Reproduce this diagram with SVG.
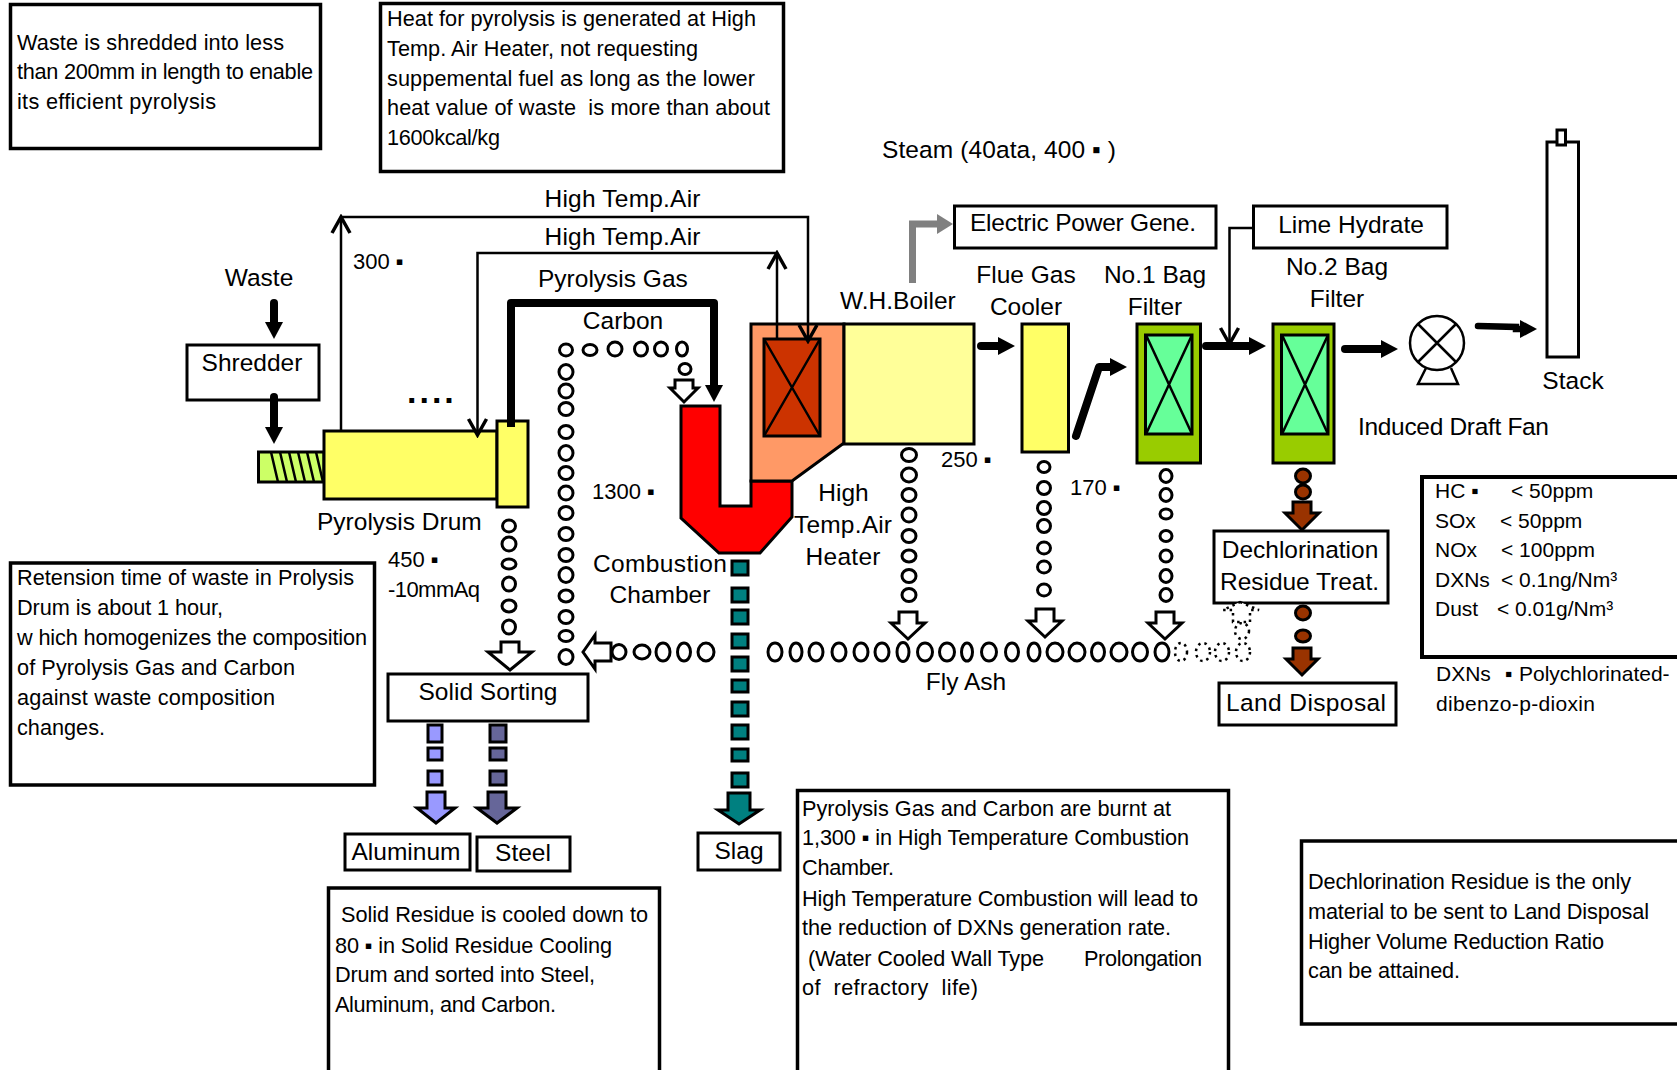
<svg xmlns="http://www.w3.org/2000/svg" width="1677" height="1070" viewBox="0 0 1677 1070">
<style>
text{font-family:"Liberation Sans",Arial,sans-serif;fill:#000}
.l{font-size:24.5px}.m{text-anchor:middle}.n{font-size:21.7px}.e{font-size:21px}.t{font-size:22px}
.b{fill:#fff;stroke:#000;stroke-width:3}.note{fill:#fff;stroke:#000;stroke-width:3.5}
.s{stroke:#000;stroke-width:3}
.x{fill:none;stroke:#000;stroke-width:2.5}
.thin{fill:none;stroke:#000;stroke-width:2.5}
.heavy{fill:none;stroke:#000;stroke-width:8;stroke-linecap:round;stroke-linejoin:round}
.o{fill:#fff;stroke:#000;stroke-width:3}
.d{fill:#fff;stroke:#000;stroke-width:2.5;stroke-dasharray:2.5 4}
.h{fill:#fff;stroke:#000;stroke-width:3}
</style>
<defs>
<marker id="fh" markerUnits="userSpaceOnUse" markerWidth="20" markerHeight="20" refX="1" refY="9" orient="auto"><path d="M0 0L17 9L0 18Z" fill="#000"/></marker>
<marker id="gh" markerUnits="userSpaceOnUse" markerWidth="20" markerHeight="22" refX="1" refY="10" orient="auto"><path d="M0 0L16 10L0 20Z" fill="#808080"/></marker>
<marker id="vh" markerUnits="userSpaceOnUse" markerWidth="20" markerHeight="24" refX="17" refY="11" orient="auto"><path d="M1 2L17 11L1 20" fill="none" stroke="#000" stroke-width="3.500"/></marker>
</defs>
<g id="note-shredding"><rect class="note" x="10.500" y="4.500" width="310" height="144"/>
<text class="n" x="17" y="50" textLength="267">Waste is shredded into less</text><text class="n" x="17" y="79" textLength="296">than 200mm in length to enable</text><text class="n" x="17" y="109" textLength="199">its efficient pyrolysis</text></g>
<g id="note-heat"><rect class="note" x="380.500" y="3.500" width="403" height="168"/>
<text class="n" x="387" y="26" textLength="369">Heat for pyrolysis is generated at High</text><text class="n" x="387" y="56" textLength="311">Temp. Air Heater, not requesting</text><text class="n" x="387" y="86" textLength="368">suppemental fuel as long as the lower</text><text class="n" x="387" y="115" textLength="383" xml:space="preserve">heat value of waste  is more than about</text><text class="n" x="387" y="145" textLength="113">1600kcal/kg</text></g>
<g id="note-retention"><rect class="note" x="10.500" y="563" width="364" height="222"/>
<text class="n" x="17" y="585" textLength="337">Retension time of waste in Prolysis</text><text class="n" x="17" y="615" textLength="206">Drum is about 1 hour,</text><text class="n" x="17" y="645" textLength="350">w hich homogenizes the composition</text><text class="n" x="17" y="675" textLength="278">of Pyrolysis Gas and Carbon</text><text class="n" x="17" y="705" textLength="258">against waste composition</text><text class="n" x="17" y="735" textLength="88">changes.</text></g>
<g id="note-solid"><rect class="note" x="328.500" y="888" width="331" height="190"/>
<text class="n" x="341" y="922" textLength="307">Solid Residue is cooled down to</text><text class="n" x="335" y="953" textLength="277">80 ▪ in Solid Residue Cooling</text><text class="n" x="335" y="982" textLength="260">Drum and sorted into Steel,</text><text class="n" x="335" y="1012" textLength="221">Aluminum, and Carbon.</text></g>
<g id="note-combustion"><rect class="note" x="797.500" y="790.500" width="431" height="290"/>
<text class="n" x="802" y="816" textLength="369">Pyrolysis Gas and Carbon are burnt at</text><text class="n" x="802" y="845" textLength="387">1,300 ▪ in High Temperature Combustion</text><text class="n" x="802" y="875" textLength="92">Chamber.</text><text class="n" x="802" y="906" textLength="396">High Temperature Combustion will lead to</text><text class="n" x="802" y="935" textLength="369">the reduction of DXNs generation rate.</text><text class="n" x="808" y="966" textLength="236">(Water Cooled Wall Type</text><text class="n" x="1084" y="966" textLength="118">Prolongation</text><text class="n" x="802" y="995" xml:space="preserve" textLength="176">of  refractory  life)</text></g>
<g id="note-dechlorination"><rect class="note" x="1301.500" y="841" width="385" height="183"/>
<text class="n" x="1308" y="889" textLength="323">Dechlorination Residue is the only</text><text class="n" x="1308" y="919" textLength="341">material to be sent to Land Disposal</text><text class="n" x="1308" y="949" textLength="296">Higher Volume Reduction Ratio</text><text class="n" x="1308" y="978" textLength="152">can be attained.</text></g>
<g id="emissions"><rect x="1422" y="477" width="265" height="180" fill="#fff" stroke="#000" stroke-width="4"/>
<text class="e" x="1435" y="498">HC ▪</text><text class="e" x="1511" y="498">&lt; 50ppm</text><text class="e" x="1435" y="528">SOx</text><text class="e" x="1500" y="528">&lt; 50ppm</text><text class="e" x="1435" y="557">NOx</text><text class="e" x="1501" y="557">&lt; 100ppm</text><text class="e" x="1435" y="587">DXNs</text><text class="e" x="1501" y="587">&lt; 0.1ng/Nm³</text><text class="e" x="1435" y="616">Dust</text><text class="e" x="1497" y="616">&lt; 0.01g/Nm³</text></g>
<text class="e" x="1436" y="681">DXNs</text><text class="e" x="1505" y="681">▪</text><text class="e" x="1519" y="681">Polychlorinated-</text><text class="e" x="1436" y="711" textLength="159">dibenzo-p-dioxin</text>
<g id="shredder"><rect class="b" x="187" y="345" width="132" height="55"/><text class="l m" x="252" y="371">Shredder</text></g>
<text class="l m" x="259" y="286">Waste</text>
<g id="pyrolysis-drum"><rect class="s" x="258.500" y="452" width="65.500" height="30" fill="#CCFF66"/>
<path d="M271 452L278 482M280 452L287 482M289 452L296 482M298 452L305 482M307 452L314 482M316 452L323 482" class="x"/>
<rect class="s" x="324" y="431" width="173" height="68" fill="#FFFF66"/>
<rect class="s" x="497" y="421" width="31" height="86" fill="#FFFF66"/>
<text class="l" x="317" y="530">Pyrolysis Drum</text></g>
<text font-size="34" font-weight="700" x="407" y="403" letter-spacing="3">....</text>
<text class="t" x="353" y="269">300 ▪</text><text class="t" x="388" y="567">450 ▪</text><text class="t" x="388" y="597" textLength="92">-10mmAq</text><text class="t" x="592" y="499">1300 ▪</text><text class="t" x="941" y="467">250 ▪</text><text class="t" x="1070" y="495">170 ▪</text>
<text class="l m" x="622.500" y="207" textLength="156">High Temp.Air</text><text class="l m" x="622.500" y="245" textLength="156">High Temp.Air</text><text class="l" x="538" y="287">Pyrolysis Gas</text><text class="l m" x="623" y="329">Carbon</text>
<text class="l" x="882" y="158" textLength="234">Steam (40ata, 400 ▪ )</text>
<g id="combustion-chamber"><polygon class="s" points="681,406 720,406 720,506 751,506 751,481 792,481 792,517 760,553 719,553 681,518" fill="#FF0000"/>
<text class="l m" x="660" y="572" textLength="134">Combustion</text><text class="l m" x="660" y="603">Chamber</text></g>
<g id="air-heater"><polygon class="s" points="751,324 844,324 844,443 792,481 751,481" fill="#FF9966"/>
<rect class="s" x="764" y="339" width="56" height="97" fill="#CC3300"/><path class="x" d="M764 339L820 436M820 339L764 436"/>
<text class="l m" x="843.500" y="501">High</text><text class="l m" x="843" y="533" textLength="98">Temp.Air</text><text class="l m" x="843" y="565" textLength="75">Heater</text></g>
<g id="wh-boiler"><rect class="s" x="844" y="324" width="130" height="120" fill="#FFFF99"/><text class="l" x="840" y="309">W.H.Boiler</text></g>
<g id="flue-gas-cooler"><rect class="s" x="1022" y="324" width="46.500" height="128" fill="#FFFF66"/><text class="l m" x="1026" y="283">Flue Gas</text><text class="l m" x="1026" y="315">Cooler</text></g>
<g id="bag-filter-1"><rect class="s" x="1137" y="324" width="63.500" height="139" fill="#99CC00"/><rect class="s" x="1145.500" y="335" width="46.500" height="99" fill="#66FF99"/><path class="x" d="M1146 335L1192 434M1192 335L1146 434"/><text class="l m" x="1155" y="283">No.1 Bag</text><text class="l m" x="1155" y="315">Filter</text></g>
<g id="bag-filter-2"><rect class="s" x="1273" y="324" width="61" height="139" fill="#99CC00"/><rect class="s" x="1281.500" y="335" width="46.500" height="99" fill="#66FF99"/><path class="x" d="M1282 335L1328 434M1328 335L1282 434"/><text class="l m" x="1337" y="275">No.2 Bag</text><text class="l m" x="1337" y="307">Filter</text></g>
<g id="electric-power"><rect class="b" x="954.500" y="206" width="261.500" height="42"/><text class="l m" x="1083" y="231" textLength="226">Electric Power Gene.</text></g>
<g id="lime-hydrate"><rect class="b" x="1253.500" y="206" width="193.500" height="42"/><text class="l m" x="1351" y="233">Lime Hydrate</text></g>
<g id="fan"><path class="x" d="M1426 368L1418 384H1458L1451 368"/><circle class="x" cx="1437" cy="343" r="27" fill="#fff"/><path class="x" d="M1418 324L1456 362M1456 324L1418 362"/><text class="l" x="1358" y="435" textLength="191">Induced Draft Fan</text></g>
<g id="stack"><rect class="b" x="1547" y="142" width="31.500" height="215"/><rect class="b" x="1557" y="130" width="8.500" height="15"/><text class="l m" x="1573" y="389">Stack</text></g>
<text class="l m" x="966" y="690">Fly Ash</text>
<g id="dechlorination"><rect class="b" x="1214" y="531" width="174" height="72"/><text class="l m" x="1300" y="558">Dechlorination</text><text class="l m" x="1299.500" y="590" textLength="159">Residue Treat.</text></g>
<g id="land-disposal"><rect class="b" x="1219" y="683" width="177" height="42"/><text class="l m" x="1306" y="711" textLength="160">Land Disposal</text></g>
<g id="solid-sorting"><rect class="b" x="388" y="674" width="200" height="47"/><text class="l m" x="488" y="700">Solid Sorting</text></g>
<g id="aluminum"><rect class="b" x="345" y="834" width="125" height="36"/><text class="l m" x="406" y="860">Aluminum</text></g>
<g id="steel"><rect class="b" x="477" y="837" width="93" height="34"/><text class="l m" x="523" y="861">Steel</text></g>
<g id="slag"><rect class="b" x="698" y="833" width="82" height="37"/><text class="l m" x="739" y="859">Slag</text></g>
<g id="connectors">
<path class="thin" d="M341 431V217" marker-end="url(#vh)"/>
<path class="thin" d="M341 217H808V341" marker-end="url(#vh)"/>
<path class="thin" d="M777 339V253" marker-end="url(#vh)"/>
<path class="thin" d="M777 253H477.500V435" marker-end="url(#vh)"/>
<path d="M511 427V303H714V388" fill="none" stroke="#000" stroke-width="8" stroke-linejoin="round"/>
<path d="M705 385H723L714 402Z"/>
<path class="heavy" d="M274 303V323" marker-end="url(#fh)"/>
<path class="heavy" d="M274 397V428" marker-end="url(#fh)"/>
<path class="heavy" d="M981 346H999" marker-end="url(#fh)"/>
<path class="heavy" d="M1076 436L1099 367H1111" marker-end="url(#fh)"/>
<path class="heavy" d="M1206 346H1250" marker-end="url(#fh)"/>
<path class="heavy" d="M1345 349H1382" marker-end="url(#fh)"/>
<path d="M1478 326L1516 327V329H1521" fill="none" stroke="#000" stroke-width="6.500" marker-end="url(#fh)" stroke-linecap="round"/>
<path d="M912.500 283V224H938" fill="none" stroke="#808080" stroke-width="7" marker-end="url(#gh)"/>
<path class="thin" d="M1253 228H1229.500V344" marker-end="url(#vh)"/>
<g id="carbon-flow">
<ellipse class="o" cx="566" cy="350" rx="6.500" ry="6"/><ellipse class="o" cx="590" cy="350" rx="7" ry="5.500"/><ellipse class="o" cx="615" cy="349" rx="7" ry="7"/><ellipse class="o" cx="641" cy="349" rx="6.500" ry="7"/><ellipse class="o" cx="661" cy="349" rx="6.500" ry="7"/><ellipse class="o" cx="682" cy="349" rx="5.500" ry="7"/><ellipse class="o" cx="685" cy="369" rx="6" ry="5.500"/>
<ellipse class="o" cx="566" cy="372" rx="7" ry="7.500"/><ellipse class="o" cx="566" cy="391" rx="7" ry="7"/><ellipse class="o" cx="566" cy="409" rx="7" ry="6.500"/><ellipse class="o" cx="566" cy="432" rx="7" ry="6.500"/><ellipse class="o" cx="566" cy="453" rx="7" ry="7.500"/><ellipse class="o" cx="566" cy="473" rx="7" ry="6.500"/><ellipse class="o" cx="566" cy="493" rx="7" ry="7"/><ellipse class="o" cx="566" cy="513" rx="7" ry="6.500"/><ellipse class="o" cx="566" cy="534" rx="7" ry="6.500"/><ellipse class="o" cx="566" cy="555" rx="7" ry="6.500"/><ellipse class="o" cx="566" cy="575" rx="7" ry="7.500"/><ellipse class="o" cx="566" cy="596" rx="7" ry="6"/><ellipse class="o" cx="566" cy="617" rx="7" ry="6.500"/><ellipse class="o" cx="566" cy="636" rx="7" ry="5.500"/><ellipse class="o" cx="566" cy="657" rx="7" ry="7.500"/>
<polygon class="h" points="675,380 693,380 693,388 698,388 684,402 670,388 675,388"/>
</g>
<g id="drum-residue">
<ellipse class="o" cx="509" cy="526" rx="6.500" ry="6"/><ellipse class="o" cx="509" cy="544" rx="7" ry="7"/><ellipse class="o" cx="509" cy="564" rx="7" ry="5"/><ellipse class="o" cx="509" cy="584" rx="6.500" ry="7"/><ellipse class="o" cx="509" cy="606" rx="7" ry="6"/><ellipse class="o" cx="509" cy="627" rx="6.500" ry="7"/>
<polygon class="h" points="501,642 519,642 519,652 532,652 510,670 488,652 501,652"/>
</g>
<g id="fly-ash-flow">
<polygon class="h" points="583,652 595,635 595,643 611,643 611,661 595,661 595,669"/>
<ellipse class="o" cx="619" cy="652" rx="7" ry="7.500"/><ellipse class="o" cx="642" cy="652" rx="8" ry="7"/><ellipse class="o" cx="663" cy="652" rx="7" ry="9"/><ellipse class="o" cx="684" cy="652" rx="6.500" ry="9"/><ellipse class="o" cx="706" cy="652" rx="8" ry="9"/>
<ellipse class="o" cx="775" cy="652" rx="7" ry="9"/><ellipse class="o" cx="796" cy="652" rx="6" ry="9"/><ellipse class="o" cx="816" cy="652" rx="7" ry="9"/><ellipse class="o" cx="839" cy="652" rx="7" ry="9"/><ellipse class="o" cx="861" cy="652" rx="7" ry="9"/><ellipse class="o" cx="882" cy="652" rx="7" ry="9"/><ellipse class="o" cx="903" cy="652" rx="6" ry="9.500"/><ellipse class="o" cx="925" cy="652" rx="7.500" ry="9"/><ellipse class="o" cx="947" cy="652" rx="7.500" ry="9"/><ellipse class="o" cx="967" cy="652" rx="5.500" ry="9"/><ellipse class="o" cx="989" cy="652" rx="7.500" ry="9"/><ellipse class="o" cx="1012" cy="652" rx="6.500" ry="9"/><ellipse class="o" cx="1034" cy="652" rx="6" ry="9"/><ellipse class="o" cx="1055" cy="652" rx="8" ry="9"/><ellipse class="o" cx="1077" cy="652" rx="8" ry="9"/><ellipse class="o" cx="1098" cy="652" rx="6.500" ry="9"/><ellipse class="o" cx="1119" cy="652" rx="8" ry="9"/><ellipse class="o" cx="1140" cy="652" rx="7.500" ry="9"/><ellipse class="o" cx="1162" cy="652" rx="7" ry="9"/>
<ellipse class="d" cx="1181" cy="652" rx="6" ry="9"/><ellipse class="d" cx="1203" cy="652" rx="7" ry="9"/><ellipse class="d" cx="1222" cy="652" rx="7" ry="9"/><ellipse class="d" cx="1243" cy="652" rx="7" ry="9"/>
<ellipse class="d" cx="1242" cy="631" rx="7" ry="8"/>
<polygon class="d" points="1240,602 1259,610 1250,610 1250,622 1233,622 1233,610 1223,610"/>
</g>
<g id="boiler-ash">
<ellipse class="o" cx="909" cy="455" rx="7.500" ry="6.500"/><ellipse class="o" cx="909" cy="475" rx="7.500" ry="7"/><ellipse class="o" cx="909" cy="495" rx="7" ry="6.500"/><ellipse class="o" cx="909" cy="515" rx="7" ry="7"/><ellipse class="o" cx="909" cy="536" rx="7" ry="6.500"/><ellipse class="o" cx="909" cy="556" rx="7" ry="6"/><ellipse class="o" cx="909" cy="576" rx="7" ry="6.500"/><ellipse class="o" cx="909" cy="595" rx="7" ry="6.500"/>
<polygon class="h" points="899,612 917,612 917,623 925,623 908,639 891,623 899,623"/>
</g>
<g id="cooler-ash">
<ellipse class="o" cx="1044" cy="467" rx="6" ry="5.500"/><ellipse class="o" cx="1044" cy="488" rx="6.500" ry="6.500"/><ellipse class="o" cx="1044" cy="508" rx="6.500" ry="6.500"/><ellipse class="o" cx="1044" cy="526" rx="6.500" ry="6.500"/><ellipse class="o" cx="1044" cy="548" rx="6.500" ry="6"/><ellipse class="o" cx="1044" cy="567" rx="6.500" ry="6"/><ellipse class="o" cx="1044" cy="590" rx="6.500" ry="6"/>
<polygon class="h" points="1036,609 1054,609 1054,621 1062,621 1045,637 1028,621 1036,621"/>
</g>
<g id="filter1-ash">
<ellipse class="o" cx="1166" cy="476" rx="6" ry="6.500"/><ellipse class="o" cx="1166" cy="495" rx="6" ry="6.500"/><ellipse class="o" cx="1166" cy="514" rx="6" ry="5"/><ellipse class="o" cx="1166" cy="536" rx="6" ry="5.500"/><ellipse class="o" cx="1166" cy="556" rx="6" ry="6"/><ellipse class="o" cx="1166" cy="576" rx="6" ry="6.500"/><ellipse class="o" cx="1166" cy="595" rx="6" ry="6.500"/>
<polygon class="h" points="1156,612 1174,612 1174,623 1182,623 1165,639 1148,623 1156,623"/>
</g>
<g id="dechlor-flow" fill="#993300" stroke="#000" stroke-width="3">
<ellipse cx="1303" cy="476" rx="7.500" ry="7"/><ellipse cx="1303" cy="492" rx="7.500" ry="7"/>
<polygon points="1293,502 1311,502 1311,513 1319,513 1302,530 1285,513 1293,513"/>
<ellipse cx="1303" cy="613" rx="7.500" ry="7"/><ellipse cx="1303" cy="636" rx="7.500" ry="6"/>
<polygon points="1293,648 1311,648 1311,659 1318,659 1302,675 1286,659 1293,659"/>
</g>
<g id="slag-flow" fill="#008080" stroke="#000" stroke-width="3">
<rect x="732" y="561" width="16" height="14"/><rect x="732" y="588" width="16" height="14"/><rect x="732" y="610" width="16" height="14"/><rect x="732" y="634" width="16" height="14"/><rect x="732" y="657" width="16" height="14"/><rect x="732" y="680" width="16" height="12"/><rect x="732" y="702" width="16" height="14"/><rect x="732" y="725" width="16" height="14"/><rect x="732" y="749" width="16" height="12"/><rect x="732" y="773" width="16" height="14"/>
<polygon points="728,793 750,793 750,810 760,810 739,824 718,810 728,810"/>
</g>
<g id="aluminum-flow" fill="#9999FF" stroke="#000" stroke-width="3">
<rect x="428" y="725" width="14" height="17"/><rect x="428" y="748" width="14" height="12"/><rect x="428" y="771" width="14" height="14"/>
<polygon points="427,792 445,792 445,808 455,808 436,823 417,808 427,808"/>
</g>
<g id="steel-flow" fill="#666699" stroke="#000" stroke-width="3">
<rect x="490" y="725" width="16" height="17"/><rect x="490" y="748" width="16" height="12"/><rect x="490" y="771" width="16" height="14"/>
<polygon points="488,792 506,792 506,808 517,808 497,823 477,808 488,808"/>
</g>
</g>
</svg>
